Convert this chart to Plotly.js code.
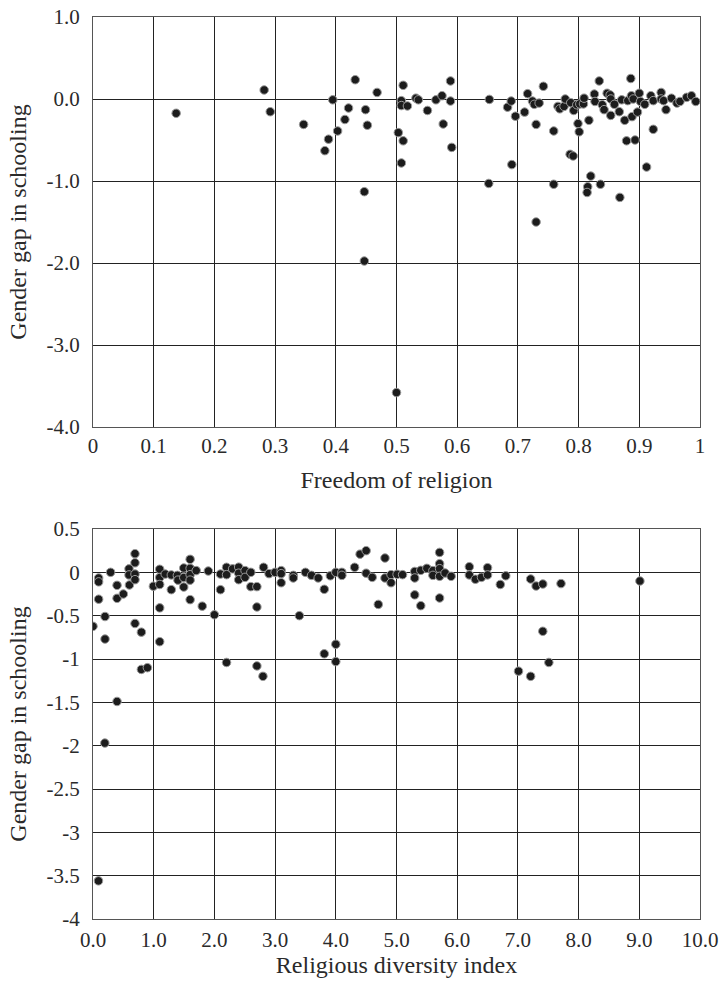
<!DOCTYPE html>
<html><head><meta charset="utf-8">
<script src="https://cdn.plot.ly/plotly-3.0.1.min.js"></script>
<style>html,body{margin:0;padding:0;background:#fff}#c{width:721px;height:983px}</style>
</head><body><div id="c"></div>
<script>
// Top panel: Freedom of religion vs gender gap in schooling
const freedomX = [0.137,0.282,0.292,0.347,0.382,0.388,0.395,0.403,0.415,0.421,0.432,0.449,0.452,0.447,0.468,0.447,0.500,
0.511,0.508,0.508,0.518,0.503,0.511,0.508,0.532,0.536,0.551,0.565,0.575,0.577,0.589,0.589,0.591,
0.653,0.652,0.683,0.689,0.696,0.690,0.711,0.716,0.724,0.727,0.735,0.730,0.742,0.730,0.759,0.759,
0.766,0.769,0.776,0.778,0.787,0.792,0.797,0.802,0.808,0.809,0.799,0.801,0.786,0.791,0.817,0.820,0.815,0.814,0.836,0.868,
0.826,0.827,0.834,0.839,0.842,0.847,0.852,0.853,0.853,0.859,0.867,0.871,0.876,0.879,0.881,0.886,0.887,0.890,0.893,0.888,
0.897,0.900,0.902,0.909,0.912,0.919,0.923,0.923,0.936,0.936,0.940,0.944,0.953,0.962,0.967,0.978,0.986,0.993];
const freedomGap = [-0.174,0.11,-0.155,-0.31,-0.63,-0.49,-0.01,-0.39,-0.25,-0.11,0.235,-0.13,-0.32,-1.13,0.08,-1.976,-3.58,
0.167,-0.02,-0.08,-0.085,-0.41,-0.51,-0.78,0.01,-0.01,-0.14,-0.01,0.04,-0.305,0.22,-0.025,-0.59,
-0.005,-1.03,-0.10,-0.025,-0.21,-0.80,-0.16,0.065,-0.025,-0.065,-0.05,-0.31,0.155,-1.50,-0.39,-1.04,
-0.09,-0.12,-0.09,0.0,-0.045,-0.14,-0.07,-0.06,-0.06,0.01,-0.30,-0.40,-0.675,-0.695,-0.26,-0.94,-1.07,-1.14,-1.04,-1.20,
0.06,-0.03,0.22,-0.07,-0.13,0.07,0.05,0.0,-0.20,-0.065,-0.155,-0.01,-0.26,-0.51,-0.02,0.25,0.04,0.0,-0.50,-0.215,
-0.16,0.07,-0.03,-0.065,-0.83,0.04,-0.02,-0.37,0.08,0.0,-0.02,-0.13,0.01,-0.05,-0.03,0.02,0.04,-0.03];

// Bottom panel: Religious diversity index vs gender gap in schooling
const diversityX = [0.0,0.093,0.093,0.093,0.198,0.198,0.29,0.396,0.396,0.396,0.5,0.593,0.593,0.6,0.692,0.692,0.692,0.692,0.692,
0.797,0.797,0.896,0.995,1.099,1.099,1.099,1.099,1.099,1.19,1.29,1.29,1.39,1.40,1.495,1.495,1.495,1.60,1.60,1.60,1.60,1.60,
1.70,1.80,1.90,2.0,2.10,2.10,2.2,2.2,2.2,2.30,2.40,2.40,2.40,2.505,2.505,2.60,2.60,2.70,2.70,2.70,2.81,2.80,2.90,3.0,
3.10,3.10,3.10,3.30,3.30,3.40,3.5,3.6,3.71,3.81,3.81,3.91,4.0,4.10,4.10,4.0,4.0,4.31,4.40,4.50,4.50,4.60,4.70,4.81,4.81,
4.91,4.91,5.01,5.10,5.30,5.30,5.30,5.40,5.40,5.50,5.60,5.60,5.71,5.71,5.71,5.71,5.71,5.80,5.90,6.20,6.20,6.30,6.40,6.50,6.50,
6.71,6.80,7.21,7.30,7.41,7.71,9.01,7.41,7.51,7.01,7.21,0.09,0.195];
const diversityGap = [-0.623,-0.065,-0.11,-0.31,-0.51,-0.77,0.0,-0.15,-0.30,-1.49,-0.25,0.04,-0.03,-0.146,0.215,0.11,-0.02,-0.085,-0.59,
-0.69,-1.12,-1.10,-0.16,0.035,-0.06,-0.14,-0.41,-0.80,-0.02,-0.03,-0.20,-0.035,-0.09,0.05,-0.06,-0.17,0.15,0.046,-0.027,-0.09,-0.315,
0.02,-0.39,0.015,-0.49,-0.02,-0.20,0.058,-0.027,-1.04,0.04,0.06,-0.01,-0.085,0.02,-0.058,0.0,-0.165,-0.165,-0.40,-1.08,0.058,-1.20,-0.015,0.0,
0.02,-0.015,-0.12,-0.035,-0.065,-0.50,0.0,-0.035,-0.065,-0.196,-0.94,-0.04,0.0,0.0,-0.035,-0.83,-1.03,0.058,0.21,0.25,-0.01,-0.058,-0.37,0.165,-0.065,
-0.027,-0.12,-0.023,-0.027,0.01,-0.065,-0.26,0.023,-0.385,0.046,0.02,-0.035,0.23,0.10,0.042,-0.046,-0.296,-0.008,-0.046,0.065,-0.03,-0.08,-0.058,0.054,-0.03,
-0.14,-0.04,-0.077,-0.158,-0.135,-0.13,-0.10,-0.68,-1.04,-1.14,-1.20,-3.56,-1.97];

const topXTicks = [0,0.1,0.2,0.3,0.4,0.5,0.6,0.7,0.8,0.9,1];
const topXText = ["0","0.1","0.2","0.3","0.4","0.5","0.6","0.7","0.8","0.9","1"];
const topYTicks = [1,0,-1,-2,-3,-4];
const topYText = ["1.0","0.0","-1.0","-2.0","-3.0","-4.0"];
const botXTicks = [0,1,2,3,4,5,6,7,8,9,10];
const botXText = ["0.0","1.0","2.0","3.0","4.0","5.0","6.0","7.0","8.0","9.0","10.0"];
const botYTicks = [0.5,0,-0.5,-1,-1.5,-2,-2.5,-3,-3.5,-4];
const botYText = ["0.5","0","-0.5","-1","-1.5","-2","-2.5","-3","-3.5","-4"];

const FONT = "'Liberation Serif','DejaVu Serif',serif";
const TXT = '#2a2a2a';
const marker = {color:'#1c1c1c', size:8.5, line:{color:'#9a9a9a', width:1}};
const titleFont = {family:FONT, size:24, color:TXT};

const axBase = {
  showgrid:true, gridcolor:'#222', gridwidth:1,
  zeroline:false, showline:true, mirror:true, linecolor:'#555', linewidth:1,
  ticks:'', tickmode:'array', tickfont:{family:FONT, size:21, color:TXT},
  automargin:false, fixedrange:true
};

const data = [
  {x:freedomX, y:freedomGap, type:'scatter', mode:'markers', marker:marker, xaxis:'x', yaxis:'y', hoverinfo:'none'},
  {x:diversityX, y:diversityGap, type:'scatter', mode:'markers', marker:marker, xaxis:'x2', yaxis:'y2', hoverinfo:'none'}
];

const layout = {
  width:721, height:983, showlegend:false,
  paper_bgcolor:'#fff', plot_bgcolor:'#fff',
  margin:{l:0,r:0,t:0,b:0},
  font:{family:FONT, color:TXT},
  xaxis:Object.assign({}, axBase, {domain:[93/721, 700/721], anchor:'y', range:[0,1],
    tickvals:topXTicks, ticktext:topXText, ticklabelstandoff:0,
    title:{text:'Freedom of religion', font:titleFont, standoff:13}}),
  yaxis:Object.assign({}, axBase, {domain:[1-427/983, 1-17/983], anchor:'x', range:[-4,1],
    tickvals:topYTicks, ticktext:topYText, ticklabelstandoff:8,
    title:{text:'Gender gap in schooling', font:titleFont, standoff:13}}),
  xaxis2:Object.assign({}, axBase, {domain:[93/721, 700/721], anchor:'y2', range:[0,10],
    tickvals:botXTicks, ticktext:botXText, ticklabelstandoff:2,
    title:{text:'Religious diversity index', font:titleFont, standoff:0}}),
  yaxis2:Object.assign({}, axBase, {domain:[1-919/983, 1-529/983], anchor:'x2', range:[-4,0.5],
    tickvals:botYTicks, ticktext:botYText, ticklabelstandoff:8,
    title:{text:'Gender gap in schooling', font:titleFont, standoff:13}})
};

Plotly.newPlot('c', data, layout, {staticPlot:true, displayModeBar:false});
</script>
</body></html>
